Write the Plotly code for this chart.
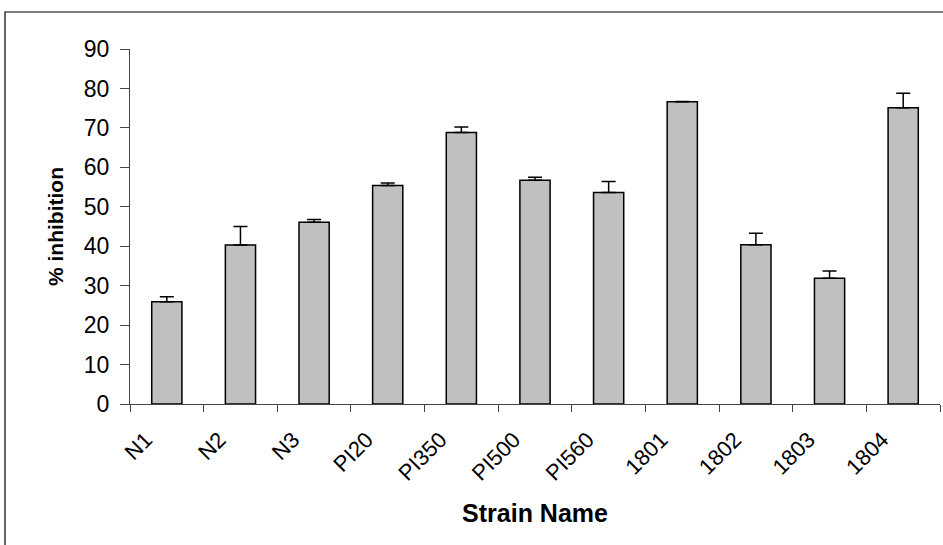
import plotly.graph_objects as go

strains = ["N1", "N2", "N3", "PI20", "PI350", "PI500", "PI560", "1801", "1802", "1803", "1804"]
inhibition = [25.9, 40.3, 46.1, 55.4, 68.8, 56.7, 53.6, 76.6, 40.4, 31.9, 75.1]
error_plus = [1.3, 4.7, 0.7, 0.6, 1.4, 0.8, 2.8, 0.1, 2.9, 1.8, 3.7]
y_ticks = [0, 10, 20, 30, 40, 50, 60, 70, 80, 90]

fig = go.Figure()
fig.add_trace(go.Bar(
    x=strains, y=inhibition, width=0.41,
    marker=dict(color="#C0C0C0", line=dict(color="black", width=1.5)),
    error_y=dict(type="data", array=error_plus, arrayminus=[0] * len(error_plus),
                 symmetric=False, color="black", thickness=1.5, width=7),
))

font = "Liberation Sans, Arial, sans-serif"
fig.update_layout(
    width=943, height=545,
    margin=dict(l=130, r=3, t=49, b=141),
    paper_bgcolor="white", plot_bgcolor="white",
    showlegend=False,
    font=dict(family=font, size=22, color="black"),
    xaxis=dict(
        type="category", tickangle=-45, tickson="boundaries",
        ticks="outside", ticklen=7, tickcolor="#444", tickwidth=1.2,
        showline=True, linecolor="#444", linewidth=1.2,
        showgrid=False, tickfont=dict(size=22),
        ticklabelstandoff=13, ticklabelshift=-21,
        title=dict(text="<b>Strain Name</b>", font=dict(size=25), standoff=20),
    ),
    yaxis=dict(
        range=[0, 90], tickvals=y_ticks,
        ticks="outside", ticklen=9, tickcolor="#444", tickwidth=1.2,
        showline=True, linecolor="#444", linewidth=1.2,
        showgrid=False, zeroline=False, tickfont=dict(size=23),
        ticklabelstandoff=6,
        title=dict(text="<b>% inhibition</b>", font=dict(size=21), standoff=14),
    ),
    shapes=[dict(type="rect", xref="paper", yref="paper",
                 x0=-0.1543, x1=1.02, y0=-0.42, y1=1.1042,
                 line=dict(color="black", width=1.2), fillcolor="rgba(0,0,0,0)")],
)

fig.write_html("out.html", config={"displayModeBar": False},
               post_script="document.body.style.margin='0';")
